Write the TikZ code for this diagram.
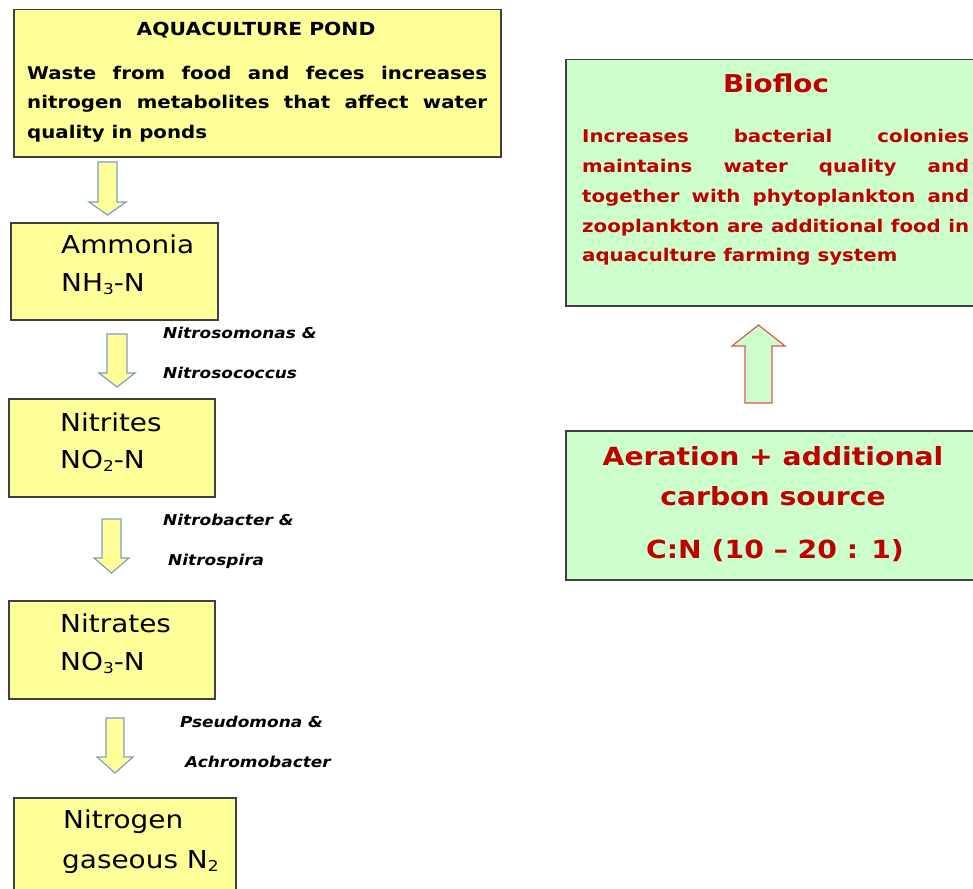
\documentclass[tikz,border=0pt]{standalone}
\usepackage{fontspec}
\usetikzlibrary{shadows}
\setmainfont{DejaVu Sans}[FakeStretch=1.13]
\definecolor{boxyellow}{HTML}{FFFF99}
\definecolor{boxgreen}{HTML}{CCFFCC}
\definecolor{txtred}{HTML}{C00000}
\definecolor{arrblue}{HTML}{7F9FC0}
\definecolor{arrred}{HTML}{E05555}
\definecolor{boxedge}{HTML}{404040}
\newcommand\fbody{\fontsize{17.5}{30}\bfseries\selectfont}
\newcommand\fbig{\fontsize{24.7}{30}\selectfont}
\newcommand\flab{\fontsize{15}{20}\bfseries\itshape\selectfont}
\newcommand\sbs[1]{\raisebox{-0.25ex}{\fontsize{15}{15}\selectfont #1}}
\begin{document}
\begin{tikzpicture}[x=1pt,y=-1pt,
  boxbase/.style={draw=boxedge,line width=1.5pt,anchor=north west,inner sep=0pt,
    drop shadow={shadow xshift=1.2pt,shadow yshift=-1.5pt,fill=black!30,opacity=0.6}},
  ybox/.style={boxbase,fill=boxyellow},
  gbox/.style={boxbase,fill=boxgreen},
  txt/.style={anchor=base west,inner sep=0pt},
  ctxt/.style={anchor=base,inner sep=0pt},
  yarrow/.style={draw=arrblue,line width=1.2pt,fill=boxyellow,line join=miter},
  garrow/.style={draw=arrred,line width=1.2pt,fill=boxgreen,line join=miter}]
\useasboundingbox (0,0) rectangle (973,888);
\fill[white] (0,0) rectangle (973,888);
% boxes
\node[ybox,minimum width=487pt,minimum height=147pt] (pond) at (13,9) {};
\node[ybox,minimum width=207pt,minimum height=97pt] (ammonia) at (10,222) {};
\node[ybox,minimum width=206pt,minimum height=98pt] (nitrites) at (8,398) {};
\node[ybox,minimum width=206pt,minimum height=98pt] (nitrates) at (8,600) {};
\node[ybox,minimum width=222pt,minimum height=110pt] (nitrogen) at (13,797) {};
\node[gbox,minimum width=420pt,minimum height=246pt] (biofloc) at (565,59) {};
\node[gbox,minimum width=420pt,minimum height=149pt] (aeration) at (565,430) {};
% pond text
\node[ctxt] (pondtitle) at (256,36) {\fontsize{18}{20}\bfseries\selectfont AQUACULTURE POND};
\node[txt] (p1) at (27,80) {\fbody\makebox[460pt][s]{Waste from food and feces increases}};
\node[txt] (p2) at (27,109) {\fbody\makebox[460pt][s]{nitrogen metabolites that affect water}};
\node[txt] (p3) at (27,138) {\fbody quality in ponds};
% chain texts
\node[txt] (a1) at (61,253) {\fbig Ammonia};
\node[txt] (a2) at (61,291) {\fbig NH\sbs{3}-N};
\node[txt] (n1) at (60,431) {\fbig Nitrites};
\node[txt] (n2) at (60,468) {\fbig NO\sbs{2}-N};
\node[txt] (t1) at (60,632) {\fbig Nitrates};
\node[txt] (t2) at (60,670) {\fbig NO\sbs{3}-N};
\node[txt] (g1) at (63,828) {\fbig Nitrogen};
\node[txt] (g2) at (62,868) {\fbig gaseous N\sbs{2}};
% bacteria labels
\node[txt] (l1) at (163,338) {\flab Nitrosomonas \&};
\node[txt] (l2) at (163,378) {\flab Nitrosococcus};
\node[txt] (l3) at (163,525) {\flab Nitrobacter \&};
\node[txt] (l4) at (168,565) {\flab Nitrospira};
\node[txt] (l5) at (180,727) {\flab Pseudomona \&};
\node[txt] (l6) at (185,767) {\flab Achromobacter};
% biofloc text
\node[ctxt,text=txtred] (btitle) at (776,93) {\fontsize{24.6}{28}\bfseries\selectfont Biofloc};
\begin{scope}[text=txtred]
\node[txt] (b1) at (582,142) {\fbody\makebox[387pt][s]{Increases bacterial colonies}};
\node[txt] (b2) at (582,172) {\fbody\makebox[387pt][s]{maintains water quality and}};
\node[txt] (b3) at (582,202) {\fbody\makebox[387pt][s]{together with phytoplankton and}};
\node[txt] (b4) at (582,232) {\fbody\makebox[387pt][s]{zooplankton are additional food in}};
\node[txt] (b5) at (582,261) {\fbody aquaculture farming system};
\node[ctxt] (c1) at (773,465) {\fontsize{25}{28}\bfseries\selectfont Aeration + additional};
\node[ctxt] (c2) at (773,505) {\fontsize{25}{28}\bfseries\selectfont carbon source};
\node[ctxt] (c3) at (775,558) {\fontsize{25}{28}\bfseries\selectfont C:N (10 -- 20 : 1)};
\end{scope}
% block arrows
\draw[yarrow] (98,162) -- (117,162) -- (117,202) -- (126,202) -- (107.5,215) -- (89,202) -- (98,202) -- cycle;
\draw[yarrow] (107,334) -- (127,334) -- (127,373) -- (135,373) -- (117,387) -- (99,373) -- (107,373) -- cycle;
\draw[yarrow] (102,519) -- (121,519) -- (121,558) -- (129,558) -- (111.5,573) -- (94,558) -- (102,558) -- cycle;
\draw[yarrow] (106,718) -- (124,718) -- (124,757) -- (133,757) -- (115,773) -- (97,757) -- (106,757) -- cycle;
\draw[garrow] (745,403) -- (772,403) -- (772,346) -- (785,346) -- (758.5,325) -- (732,346) -- (745,346) -- cycle;
\end{tikzpicture}
\end{document}
